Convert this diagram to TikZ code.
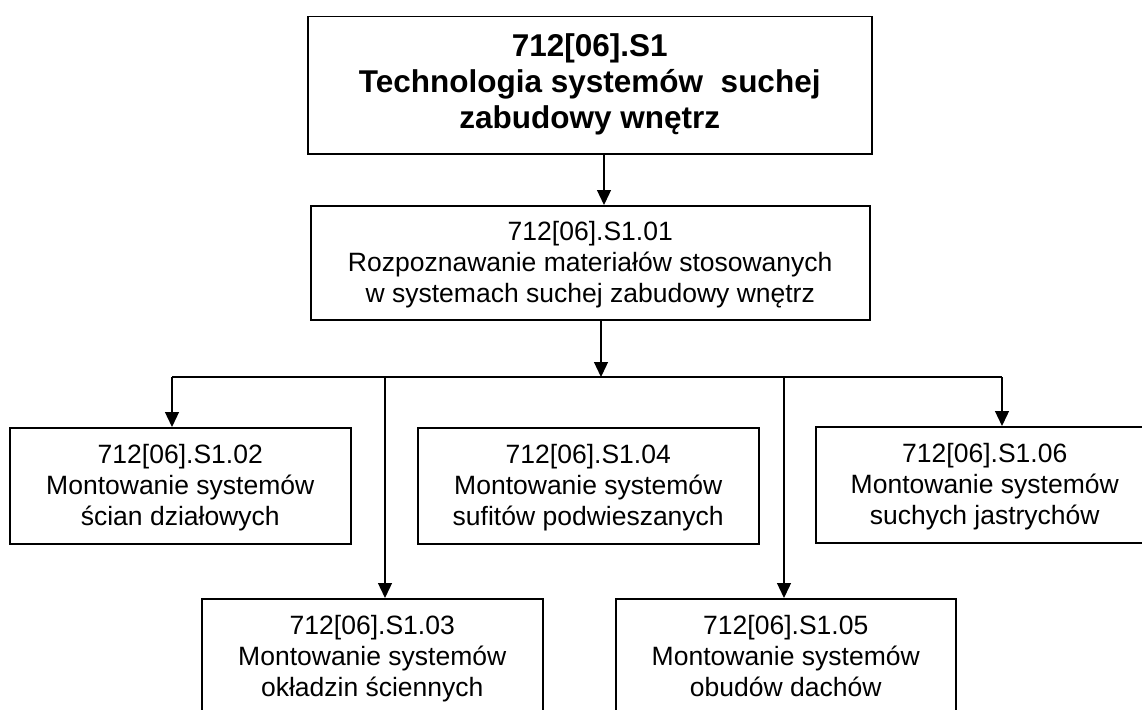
\documentclass[tikz,border=0pt]{standalone}
\usepackage{fontspec}
\setmainfont{Liberation Sans}
\usetikzlibrary{arrows.meta}
\newcommand\tstrut{\rule{0pt}{27pt}}
\tikzset{
  box/.style={draw, line width=1.5pt, rectangle, anchor=north west, inner sep=0pt, align=center,
              font=\fontsize{26.5}{31}\selectfont},
  topbox/.style={box, font=\fontsize{31.5}{36}\selectfont\bfseries},
  conn/.style={line width=1.3pt},
  arr/.style={conn, -{Triangle[width=14pt,length=15pt]}}
}
\begin{document}
\begin{tikzpicture}[x=1pt,y=1pt]
\useasboundingbox (0,0) rectangle (1142,-709);
\clip (0,0) rectangle (1142,-709);
\fill[white] (0,0) rectangle (1142,-709);
\node[topbox, minimum width=564pt, minimum height=137pt] (top) at (307,-16)
  {\strut712[06].S1\\Technologia systemów\ \ suchej\\zabudowy wnętrz\strut};
\node[box, minimum width=559pt, minimum height=114pt] (b1) at (310,-205)
  {\tstrut712[06].S1.01\\Rozpoznawanie materiałów stosowanych\\w systemach suchej zabudowy wnętrz\strut};
\node[box, minimum width=341pt, minimum height=116pt] (b2) at (9,-427)
  {\tstrut712[06].S1.02\\Montowanie systemów\\ścian działowych\strut};
\node[box, minimum width=341pt, minimum height=116pt] (b3) at (201,-598)
  {\tstrut712[06].S1.03\\Montowanie systemów\\okładzin ściennych\strut};
\node[box, minimum width=341pt, minimum height=116pt] (b4) at (417,-427)
  {\tstrut712[06].S1.04\\Montowanie systemów\\sufitów podwieszanych\strut};
\node[box, minimum width=340pt, minimum height=116pt] (b5) at (615,-598)
  {\tstrut712[06].S1.05\\Montowanie systemów\\obudów dachów\strut};
\node[box, minimum width=338pt, minimum height=116pt] (b6) at (815,-426)
  {\tstrut712[06].S1.06\\Montowanie systemów\\suchych jastrychów\strut};
% bus coordinates
\coordinate (busL) at (172,-377);
\coordinate (busR) at (1002,-377);
\coordinate (busM) at (601,-377);
\coordinate (bus3) at (385,-377);
\coordinate (bus5) at (784,-377);
% connectors
\draw[arr] (top.south -| 604,0) -- (b1.north -| 604,0);
\draw[arr] (b1.south -| busM) -- (busM);
\draw[conn] (busL) -- (busR);
\draw[arr] (busL) -- (b2.north -| busL);
\draw[arr] (bus3) -- (b3.north -| bus3);
\draw[arr] (bus5) -- (b5.north -| bus5);
\draw[arr] (busR) -- (b6.north -| busR);
\end{tikzpicture}
\end{document}
